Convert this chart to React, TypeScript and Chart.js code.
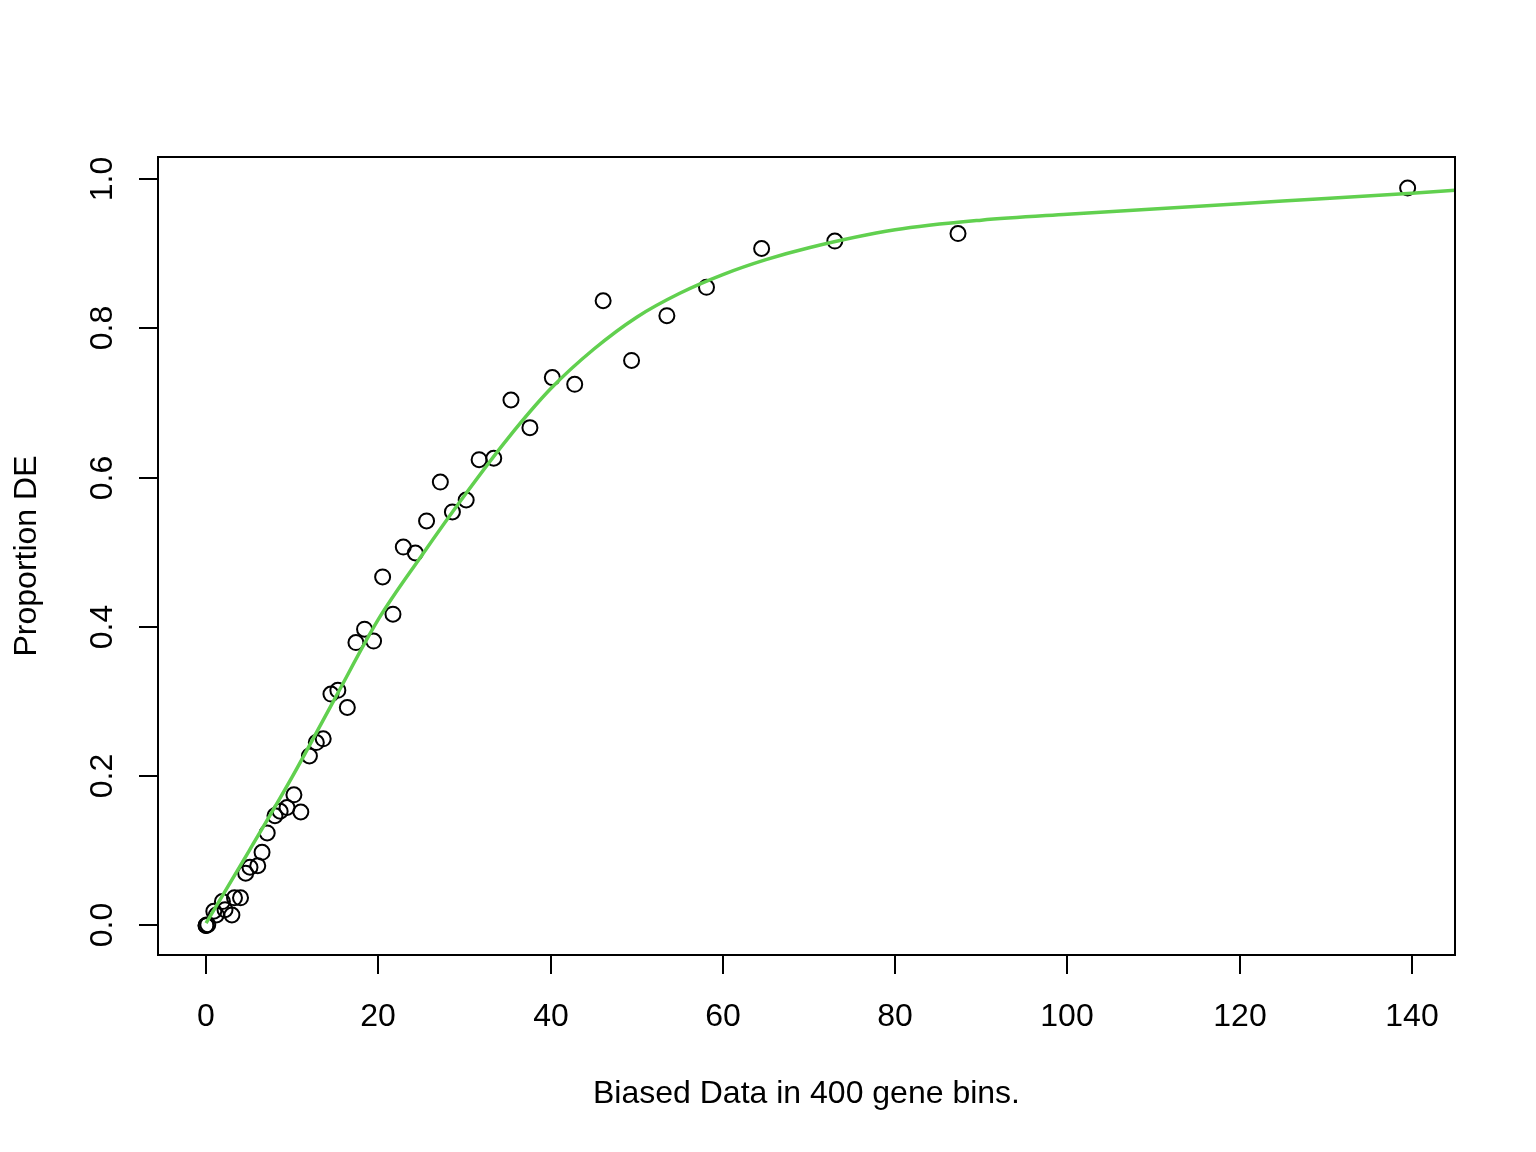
import { useEffect, useRef } from "react";
import { Chart, registerables, ChartConfiguration, Plugin } from "chart.js";

Chart.register(...registerables);

// observed bins: mean count (x) vs proportion DE (y)
const binX = [
  0, 0, 0.2, 0.9, 1.2, 1.9, 2.2, 3.0, 3.3, 4.0, 4.6, 5.1, 6.0, 6.5, 7.1, 8.0, 8.6,
  9.4, 10.2, 11.0, 12.0, 12.8, 13.6, 14.5, 15.3, 16.4, 17.4, 18.4, 19.45, 20.5,
  21.7, 22.9, 24.3, 25.6, 27.2, 28.6, 30.2, 31.7, 33.4, 35.4, 37.6, 40.2, 42.8,
  46.1, 49.4, 53.5, 58.1, 64.5, 73.0, 87.3, 139.5,
];
const binY = [
  0, 0, 0.001, 0.019, 0.014, 0.032, 0.021, 0.014, 0.037, 0.037, 0.07, 0.078, 0.08,
  0.098, 0.124, 0.147, 0.153, 0.158, 0.175, 0.152, 0.227, 0.245, 0.25, 0.31, 0.315,
  0.292, 0.379, 0.397, 0.381, 0.467, 0.417, 0.507, 0.499, 0.542, 0.594, 0.554,
  0.57, 0.624, 0.626, 0.704, 0.667, 0.734, 0.725, 0.837, 0.757, 0.817, 0.855,
  0.907, 0.917, 0.927, 0.988,
];

// fitted curve
const fitX = [0, 5, 10, 15, 20, 25, 30, 35, 40, 45, 50, 55, 60, 65, 70, 80, 90, 100, 110, 120, 130, 140, 145];
const fitY = [
  0.003, 0.1, 0.199, 0.305, 0.41, 0.495, 0.576, 0.652, 0.719, 0.772, 0.815, 0.847,
  0.872, 0.892, 0.908, 0.932, 0.945, 0.953, 0.960, 0.967, 0.974, 0.981, 0.985,
];

const xTicks = [0, 20, 40, 60, 80, 100, 120, 140];
const yTicks = [0, 0.2, 0.4, 0.6, 0.8, 1.0];

const xTitle = "Biased Data in 400 gene bins.";
const yTitle = "Proportion DE";

const FONT = '32px "Liberation Sans", Arial, sans-serif';

// R-style box, ticks and labels
const baseAxes: Plugin<"scatter"> = {
  id: "baseAxes",
  afterDraw(chart) {
    const { ctx, chartArea: a, scales } = chart;
    const xs = scales.x;
    const ys = scales.y;
    ctx.save();
    ctx.strokeStyle = "#000";
    ctx.fillStyle = "#000";
    ctx.lineWidth = 2;
    ctx.strokeRect(a.left, a.top, a.right - a.left, a.bottom - a.top);

    ctx.font = FONT;
    ctx.textAlign = "center";
    ctx.textBaseline = "alphabetic";
    xTicks.forEach((v) => {
      const px = Math.round(xs.getPixelForValue(v));
      ctx.beginPath();
      ctx.moveTo(px, a.bottom);
      ctx.lineTo(px, a.bottom + 19);
      ctx.stroke();
      ctx.fillText(String(v), px, a.bottom + 71);
    });
    ctx.fillText(xTitle, (a.left + a.right) / 2, a.bottom + 148);

    yTicks.forEach((v) => {
      const py = Math.round(ys.getPixelForValue(v));
      ctx.beginPath();
      ctx.moveTo(a.left, py);
      ctx.lineTo(a.left - 19, py);
      ctx.stroke();
      ctx.save();
      ctx.translate(a.left - 46, py);
      ctx.rotate(-Math.PI / 2);
      ctx.fillText(v.toFixed(1), 0, 0);
      ctx.restore();
    });
    ctx.save();
    ctx.translate(36, (a.top + a.bottom) / 2);
    ctx.rotate(-Math.PI / 2);
    ctx.fillText(yTitle, 0, 0);
    ctx.restore();
    ctx.restore();
  },
};

const App: React.FC = () => {
  const chartRef = useRef<HTMLCanvasElement>(null);

  useEffect(() => {
    document.body.style.margin = "0";
    if (!chartRef.current) return;
    const ctx = chartRef.current.getContext("2d");
    if (!ctx) return;

    const config: ChartConfiguration<"scatter"> = {
      type: "scatter",
      data: {
        datasets: [
          {
            type: "line",
            data: fitX.map((x, i) => ({ x, y: fitY[i] })),
            borderColor: "#61D04F",
            borderWidth: 3.5,
            pointRadius: 0,
            cubicInterpolationMode: "monotone",
            fill: false,
          } as any,
          {
            data: binX.map((x, i) => ({ x, y: binY[i] })),
            pointStyle: "circle",
            pointRadius: 7.5,
            pointBorderWidth: 2,
            borderColor: "#000",
            backgroundColor: "rgba(0,0,0,0)",
          },
        ],
      },
      options: {
        responsive: false,
        animation: false,
        clip: false as any,
        layout: { padding: { left: 158, right: 81, top: 157, bottom: 197 } },
        plugins: {
          legend: { display: false },
          tooltip: { enabled: false },
        },
        scales: {
          x: { type: "linear", display: false, min: -5.58, max: 145.0 },
          y: { type: "linear", display: false, min: -0.0396, max: 1.0296 },
        },
      },
      plugins: [baseAxes],
    };

    const chart = new Chart(ctx, config);
    return () => {
      chart.destroy();
    };
  }, []);

  return (
    <div style={{ width: 1536, height: 1152, background: "#fff" }}>
      <canvas ref={chartRef} width={1536} height={1152} style={{ display: "block" }} />
    </div>
  );
};

export default App;
